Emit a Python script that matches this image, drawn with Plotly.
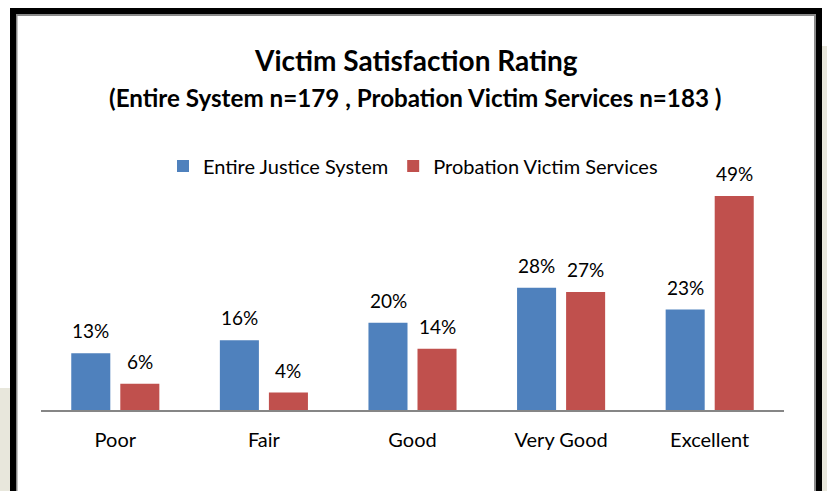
import plotly.graph_objects as go

categories = ["Poor", "Fair", "Good", "Very Good", "Excellent"]
entire_system = [13, 16, 20, 28, 23]
probation_services = [6, 4, 14, 27, 49]
series_names = ["Entire Justice System", "Probation Victim Services"]

W, H = 827, 491
ML, MR = 41, 784          # plot area left/right px
MB = 410                  # axis baseline px
YMAX = 60
PXU = 214 / 49.0
PH = YMAX * PXU
MT = MB - PH

def X(px):
    return (px - ML) / (MR - ML)

def Y(py):
    return (MB - py) / PH

FONT = "Lato, Calibri, Carlito, sans-serif"
BAR_OFFSET = 24.5         # px from category centre to bar centre

fig = go.Figure()
fig.add_trace(go.Bar(
    x=categories, y=entire_system, name=series_names[0],
    marker=dict(color="#4F81BD", line=dict(width=0)),
))
fig.add_trace(go.Bar(
    x=categories, y=probation_services, name=series_names[1],
    marker=dict(color="#C0504D", line=dict(width=0)),
))

annotations = []
for series, shift in ((entire_system, -BAR_OFFSET), (probation_services, BAR_OFFSET)):
    for c, v in zip(categories, series):
        annotations.append(dict(
            x=c, y=v, xref="x", yref="y", text=f"{v}%", showarrow=False,
            xanchor="center", yanchor="bottom", xshift=shift, yshift=9,
            font=dict(size=19, family=FONT, color="#000000"),
        ))

annotations += [
    dict(text="<b>Victim Satisfaction Rating</b>", xref="paper", yref="paper",
         x=X(416), y=Y(60), xanchor="center", yanchor="middle", showarrow=False,
         font=dict(size=28, family=FONT, color="#000000")),
    dict(text="<b>(Entire System n=179 , Probation Victim Services n=183 )</b>", xref="paper", yref="paper",
         x=X(415), y=Y(97), xanchor="center", yanchor="middle", showarrow=False,
         font=dict(size=24.2, family=FONT, color="#000000")),
]

shapes = []
beige = "#E8E7DC"
shapes.append(dict(type="rect", xref="paper", yref="paper", x0=X(0), x1=X(10), y0=Y(491), y1=Y(388),
                   fillcolor=beige, line=dict(width=0), layer="below"))
shapes.append(dict(type="rect", xref="paper", yref="paper", x0=X(822), x1=X(827), y0=Y(491), y1=Y(46),
                   fillcolor=beige, line=dict(width=0), layer="below"))
for (x0, x1, y0, y1) in [(10, 822, 8, 14), (10, 16, 8, 491), (816, 822, 8, 491)]:
    shapes.append(dict(type="rect", xref="paper", yref="paper", x0=X(x0), x1=X(x1), y0=Y(y1), y1=Y(y0),
                       fillcolor="#000000", line=dict(width=0), layer="above"))
for (x0, x1, y0, y1) in [(16, 816, 14, 16), (16, 17.5, 14, 491), (814, 816, 14, 491)]:
    shapes.append(dict(type="rect", xref="paper", yref="paper", x0=X(x0), x1=X(x1), y0=Y(y1), y1=Y(y0),
                       fillcolor="#8A8A8A", line=dict(width=0), layer="above"))

fig.update_layout(
    width=W, height=H,
    margin=dict(l=ML, r=W - MR, t=MT, b=H - MB, pad=0),
    paper_bgcolor="#FFFFFF", plot_bgcolor="#FFFFFF",
    barmode="group", bargap=0.34, bargroupgap=0.204,
    font=dict(family=FONT, color="#000000"),
    showlegend=True,
    legend=dict(orientation="h", x=X(413), xanchor="center", y=Y(166), yanchor="middle",
                font=dict(size=20, family=FONT, color="#000000"),
                bgcolor="rgba(0,0,0,0)", traceorder="normal"),
    xaxis=dict(showline=True, linecolor="#868686", linewidth=2, showgrid=False, zeroline=False,
               ticks="", tickfont=dict(size=20, family=FONT, color="#000000"), ticklabelstandoff=11,
               fixedrange=True),
    yaxis=dict(range=[0, YMAX], visible=False, showgrid=False, zeroline=False, fixedrange=True),
    shapes=shapes,
    annotations=annotations,
)

fig.write_html("out.html", config={"displayModeBar": False},
               post_script="document.body.style.margin='0';document.body.style.overflow='hidden';")
